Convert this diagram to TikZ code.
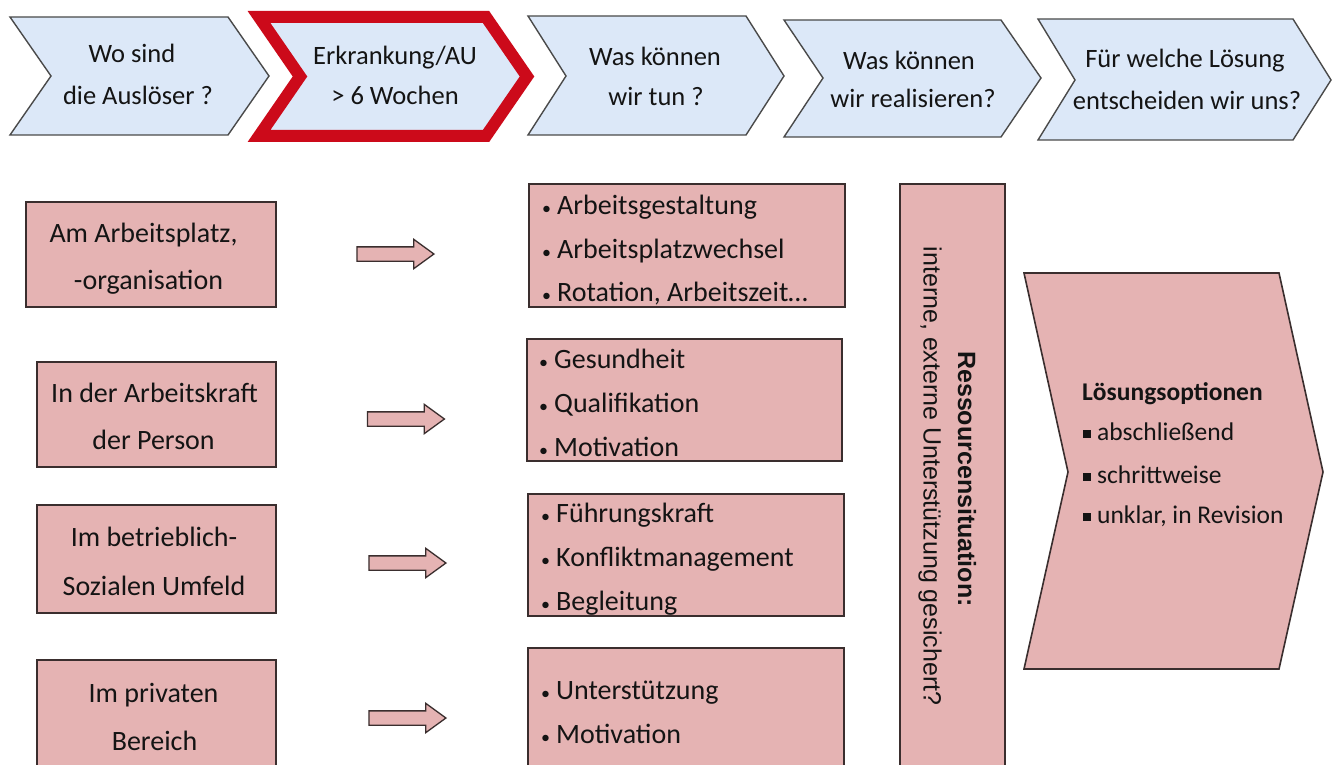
\documentclass[tikz,border=0pt]{standalone}
\usepackage{fontspec}
\setmainfont{Carlito}
\newfontfamily\sansfont{Liberation Sans}
\usetikzlibrary{shapes.arrows}

\definecolor{chevfill}{HTML}{DCE8F8}
\definecolor{chevdraw}{HTML}{4A4A4A}
\definecolor{pinkfill}{HTML}{E5B3B3}
\definecolor{pinkdraw}{HTML}{3A2E2E}
\definecolor{alertred}{HTML}{CC0A1A}
\definecolor{ink}{HTML}{141414}

\newcommand\fsz[1]{\fontsize{#1}{#1}\selectfont}
\newcommand\dotitem{\makebox[15pt][l]{\fsz{18}\textbullet}}
\newcommand\sqitem{\rule[2pt]{8pt}{8pt}\hspace{6pt}}

\begin{document}
\begin{tikzpicture}[x=1pt,y=-1pt,
  chev/.style={draw=chevdraw,fill=chevfill,line width=1.4pt,line join=miter},
  redchev/.style={draw=alertred,fill=chevfill,line width=12pt,line join=miter,miter limit=10},
  pinkbox/.style={draw=pinkdraw,fill=pinkfill,line width=1.8pt,rectangle,inner sep=0pt,outer sep=0pt},
  pinkshape/.style={draw=pinkdraw,fill=pinkfill,line width=1.6pt,line join=miter},
  chevtxt/.style={font=\fsz{26.5},text=ink,inner sep=0pt,anchor=base},
  boxtxt/.style={font=\fsz{28},text=ink,inner sep=0pt,anchor=base},
  itemtxt/.style={font=\fsz{28},text=ink,inner sep=0pt,anchor=base west},
  soltxt/.style={font=\fsz{25.5},text=ink,inner sep=0pt,anchor=base west},
  vtxt/.style={rotate=-90,text=ink,inner sep=0pt},
  blockarrow/.style={single arrow,draw=pinkdraw,fill=pinkfill,line width=1.3pt,
    minimum height=77pt,inner xsep=0pt,inner ysep=6.5pt,
    single arrow head extend=7.5pt,single arrow tip angle=72},
]
\useasboundingbox (0,0) rectangle (1336,765);
\fill[white] (0,0) rectangle (1336,765);
\clip (0,0) rectangle (1336,765);

% process chevrons along the top
\path[chev] (10,17) -- (228,17) -- (269,76) -- (228,135) -- (10,135) -- (51,76) -- cycle;
\path[redchev] (259,17) -- (486,17) -- (527,76.5) -- (486,136) -- (259,136) -- (300,76.5) -- cycle;
\path[chev] (528,16) -- (746,16) -- (784,76) -- (746,135) -- (528,135) -- (566,76) -- cycle;
\path[chev] (784,20) -- (1001,20) -- (1041,78) -- (1001,137) -- (784,137) -- (823,78) -- cycle;
\path[chev] (1038,19) -- (1293,19) -- (1331,80) -- (1293,140) -- (1038,140) -- (1075,80) -- cycle;

\node[chevtxt] (c1a) at (132,63) {Wo sind};
\node[chevtxt] (c1b) at (138,105) {die Auslöser ?};
\node[chevtxt] (c2a) at (395,65) {Erkrankung/AU};
\node[chevtxt] (c2b) at (395,105) {> 6 Wochen};
\node[chevtxt] (c3a) at (655,66) {Was können};
\node[chevtxt] (c3b) at (656,106) {wir tun ?};
\node[chevtxt] (c4a) at (909,70) {Was können};
\node[chevtxt] (c4b) at (913,108) {wir realisieren?};
\node[chevtxt] (c5a) at (1185,68) {Für welche Lösung};
\node[chevtxt] (c5b) at (1187,110) {entscheiden wir uns?};

% causes
\node[pinkbox,minimum width=250pt,minimum height=105pt] (b1) at (151,254.5) {};
\node[pinkbox,minimum width=239pt,minimum height=105pt] (b2) at (156.5,414.5) {};
\node[pinkbox,minimum width=239pt,minimum height=108pt] (b3) at (156.5,559) {};
\node[pinkbox,minimum width=239pt,minimum height=140pt] (b4) at (156.5,730) {};

\node[boxtxt] (b1a) at (143.5,242) {Am Arbeitsplatz,};
\node[boxtxt] (b1b) at (148.5,289) {-organisation};
\node[boxtxt] (b2a) at (154.5,402) {In der Arbeitskraft};
\node[boxtxt] (b2b) at (153.5,449) {der Person};
\node[boxtxt] (b3a) at (154,546) {Im betrieblich-};
\node[boxtxt] (b3b) at (154,595) {Sozialen Umfeld};
\node[boxtxt] (b4a) at (153.5,702) {Im privaten};
\node[boxtxt] (b4b) at (154.5,750) {Bereich};

% block arrows
\node[blockarrow] (a1) at (390.5,254) {};
\node[blockarrow] (a2) at (401,419) {};
\node[blockarrow] (a3) at (402.5,563) {};
\node[blockarrow] (a4) at (402.5,718) {};

% measures
\node[pinkbox,minimum width=316pt,minimum height=123pt] (r1) at (687,245.5) {};
\node[pinkbox,minimum width=315pt,minimum height=122pt] (r2) at (684.5,400) {};
\node[pinkbox,minimum width=316pt,minimum height=122pt] (r3) at (686,555) {};
\node[pinkbox,minimum width=316pt,minimum height=152pt] (r4) at (686,724) {};

\node[itemtxt] (r1a) at (542,214) {\dotitem Arbeitsgestaltung};
\node[itemtxt] (r1b) at (542,258) {\dotitem Arbeitsplatzwechsel};
\node[itemtxt] (r1c) at (542,301) {\dotitem Rotation, Arbeitszeit…};
\node[itemtxt] (r2a) at (539,368) {\dotitem Gesundheit};
\node[itemtxt] (r2b) at (539,412) {\dotitem Qualifikation};
\node[itemtxt] (r2c) at (539,456) {\dotitem Motivation};
\node[itemtxt] (r3a) at (541,522) {\dotitem Führungskraft};
\node[itemtxt] (r3b) at (541,566) {\dotitem Konfliktmanagement};
\node[itemtxt] (r3c) at (541,610) {\dotitem Begleitung};
\node[itemtxt] (r4a) at (541,699) {\dotitem Unterstützung};
\node[itemtxt] (r4b) at (541,743) {\dotitem Motivation};

% resources column
\node[pinkbox,minimum width=105pt,minimum height=616pt] (res) at (952.5,492) {};
\node[vtxt,font=\sansfont\bfseries\fsz{25}] (res1) at (967,479) {Ressourcensituation:};
\node[vtxt,font=\sansfont\fsz{25}] (res2) at (930,476) {interne, externe Unterstützung gesichert?};

% solution chevron
\path[pinkshape] (1024,273) -- (1279,273) -- (1323,472) -- (1279,669) -- (1024,669) -- (1068,472) -- cycle;
\node[soltxt,font=\bfseries\fsz{25.5}] (s0) at (1082,400) {Lösungsoptionen};
\node[soltxt] (s1) at (1083,440) {\sqitem abschließend};
\node[soltxt] (s2) at (1083,483) {\sqitem schrittweise};
\node[soltxt] (s3) at (1083,523) {\sqitem unklar, in Revision};
\end{tikzpicture}
\end{document}
